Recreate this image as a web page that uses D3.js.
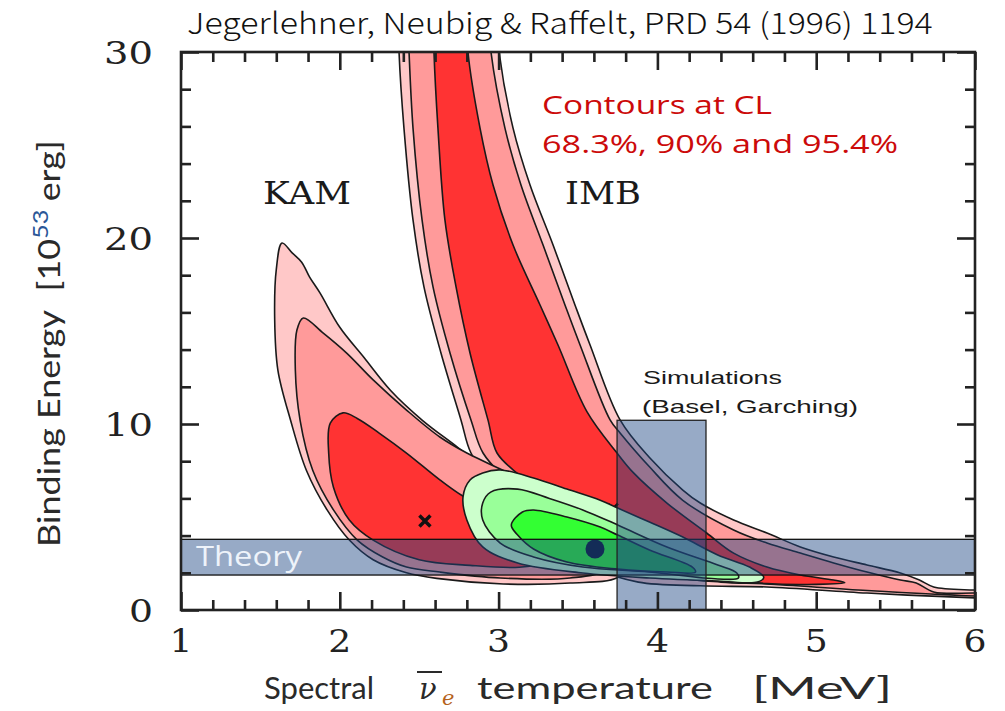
<!DOCTYPE html>
<html><head><meta charset="utf-8">
<script src="https://cdn.jsdelivr.net/npm/d3@7"></script>
<style>body{margin:0;background:#fff;} svg{display:block}</style>
</head><body>
<svg id="c" width="1005" height="711" viewBox="0 0 1005 711"></svg>
<script>
// ---------- data (T [MeV], E [1e53 erg]) ----------
const xMajorTicks = [1, 2, 3, 4, 5, 6];
const xMinorTicks = [1.2,1.4,1.6,1.8,2.2,2.4,2.6,2.8,3.2,3.4,3.6,3.8,4.2,4.4,4.6,4.8,5.2,5.4,5.6,5.8];
const yMajorTicks = [0, 10, 20, 30];
const yMinorTicks = [2,4,6,8,12,14,16,18,22,24,26,28];

const kamOuter = [[1.636,19.73],[1.70,19.2],[1.76,18.7],[1.81,17.9],[1.875,17.05],[2.0,15.2],[2.15,13.6],[2.32,11.8],[2.52,10.2],[2.74,8.76],[2.84,8.06],[3.13,6.7],[3.45,5.4],[3.70,4.0],[3.85,2.7],[3.75,1.75],[3.45,1.45],[3.03,1.4],[2.61,1.7],[2.42,2.0],[2.21,2.7],[2.06,3.76],[1.92,5.38],[1.79,7.5],[1.69,10.2],[1.61,12.9],[1.59,15.6],[1.60,18.3]];
const kam90 = [[1.77,15.7],[1.894,14.9],[2.045,13.8],[2.21,12.37],[2.42,10.75],[2.63,9.3],[2.80,8.44],[3.13,7.1],[3.45,5.75],[3.64,4.57],[3.73,3.2],[3.67,2.15],[3.45,1.72],[3.01,1.72],[2.63,2.04],[2.42,2.31],[2.27,2.85],[2.11,3.76],[1.96,5.38],[1.83,7.5],[1.75,10.2],[1.72,12.9],[1.73,15.05]];
const kam68 = [[2.02,10.6],[2.11,10.3],[2.25,9.5],[2.42,8.44],[2.63,7.0],[2.78,6.1],[3.01,5.1],[3.26,4.0],[3.39,3.2],[3.32,2.6],[3.13,2.3],[2.82,2.4],[2.5,2.7],[2.21,3.76],[2.06,4.84],[1.96,6.6],[1.93,8.44],[1.94,10.05]];
const kamBest = [2.536, 4.78];

const imbOuter = [[2.37,31.5],[2.373,30],[2.404,25.91],[2.461,20.97],[2.53,17.37],[2.637,13.82],[2.763,10.22],[2.826,8.44],[2.98,6.6],[3.18,5.0],[3.40,3.5],[3.62,2.2],[3.88,1.5],[4.27,1.3],[4.69,1.24],[5.32,0.91],[6.0,0.65],[6.25,0.6],[6.25,1.05],[5.99,1.075],[5.74,1.24],[5.65,1.61],[5.53,1.99],[5.32,2.42],[5.11,2.85],[4.90,3.39],[4.69,4.14],[4.48,4.84],[4.27,5.75],[4.16,6.45],[3.95,8.2],[3.765,10.22],[3.576,14.25],[3.481,16.40],[3.343,19.62],[3.198,22.85],[3.091,25.91],[3.003,30],[2.99,31.5]];
const imb90 = [[2.43,31.5],[2.436,30],[2.461,25.91],[2.518,20.97],[2.587,17.37],[2.694,13.82],[2.826,10.22],[2.902,8.44],[3.05,7.0],[3.25,5.5],[3.45,4.2],[3.70,2.8],[4.0,1.9],[4.4,1.5],[4.69,1.4],[5.32,1.05],[6.0,0.75],[6.25,0.7],[6.25,0.95],[5.99,0.91],[5.74,0.97],[5.63,1.45],[5.53,1.61],[5.32,2.04],[5.11,2.53],[4.90,3.06],[4.69,3.6],[4.48,4.3],[4.16,5.9],[3.95,7.7],[3.765,9.52],[3.702,10.22],[3.513,14.25],[3.418,16.40],[3.28,19.62],[3.141,22.85],[3.04,25.91],[2.952,30],[2.94,31.5]];
const imb68 = [[2.59,31.5],[2.593,30],[2.618,25.91],[2.662,20.97],[2.732,17.37],[2.82,13.82],[2.933,10.22],[2.99,8.44],[3.13,7.26],[3.39,5.6],[3.70,3.6],[4.0,2.4],[4.4,1.7],[4.69,1.42],[5.0,1.38],[5.18,1.47],[5.11,1.61],[4.90,1.88],[4.69,2.31],[4.48,3.06],[4.31,4.14],[4.06,5.75],[3.85,7.37],[3.746,8.44],[3.557,10.65],[3.374,14.25],[3.261,16.40],[3.091,19.62],[2.965,22.85],[2.883,25.91],[2.807,30],[2.80,31.5]];
const imbBest = [3.72, 5.45];

const combOuter = [[2.776,6.08],[2.82,6.99],[2.90,7.37],[3.01,7.53],[3.22,7.1],[3.43,6.5],[3.64,5.9],[3.75,5.48],[3.95,4.73],[4.16,3.92],[4.38,2.96],[4.58,2.31],[4.67,1.77],[4.63,1.5],[4.38,1.56],[3.95,1.72],[3.53,1.99],[3.12,2.53],[2.90,3.39],[2.80,4.84]];
const comb90 = [[2.90,5.75],[2.95,6.34],[3.12,6.5],[3.32,6.0],[3.53,5.38],[3.75,4.57],[4.06,3.39],[4.38,2.42],[4.50,1.99],[4.51,1.72],[4.38,1.67],[3.95,2.04],[3.53,2.31],[3.22,2.85],[3.01,3.6],[2.90,4.84]];
const comb68 = [[3.08,4.57],[3.15,5.27],[3.22,5.38],[3.43,5.0],[3.64,4.46],[3.75,4.03],[3.95,3.23],[4.22,2.31],[4.24,2.04],[4.06,2.04],[3.75,2.2],[3.43,2.58],[3.22,3.28],[3.12,4.03]];
const combBest = [3.607, 3.28];

const theoryBand = {x0: 1, x1: 6, y0: 1.88, y1: 3.80};
const simBox = {x0: 3.746, x1: 4.306, y0: 0, y1: 10.2};

// ---------- layout ----------
const L = 181, R = 975, T = 52, B = 610;
const xs = d3.scaleLinear().domain([1, 6]).range([L, R]);
const ys = d3.scaleLinear().domain([0, 30]).range([B, T]);
const svg = d3.select('#c');

svg.append('defs').append('clipPath').attr('id', 'pc')
  .append('rect').attr('x', L).attr('y', T).attr('width', R - L).attr('height', B - T);

const line = d3.line().x(d => xs(d[0])).y(d => ys(d[1])).curve(d3.curveCatmullRomClosed.alpha(0.5));
const plot = svg.append('g').attr('clip-path', 'url(#pc)');

const pinkL = '#ffc8c8', pinkM = '#ff9a9a', red = '#ff3333';
const grnL = '#ccffcc', grnM = '#99ff99', grnH = '#33ff33';

function contour(data, fill) {
  plot.append('path').attr('d', line(data)).attr('fill', fill)
    .attr('stroke', '#1a1a1a').attr('stroke-width', 1.6).attr('stroke-linejoin', 'round');
}
function cross(p, s, w) {
  const cx = xs(p[0]), cy = ys(p[1]);
  plot.append('path').attr('d', `M${cx-s},${cy-s}L${cx+s},${cy+s}M${cx-s},${cy+s}L${cx+s},${cy-s}`)
    .attr('stroke', '#111').attr('stroke-width', w).attr('fill', 'none');
}

contour(imbOuter, pinkL); contour(imb90, pinkM); contour(imb68, red);
cross(imbBest, 5, 2.5);
contour(kamOuter, pinkL); contour(kam90, pinkM); contour(kam68, red);
cross(kamBest, 5.5, 3.5);
contour(combOuter, grnL); contour(comb90, grnM); contour(comb68, grnH);
plot.append('circle').attr('cx', xs(combBest[0])).attr('cy', ys(combBest[1])).attr('r', 9.5).attr('fill', '#0c1733');

const bandFill = 'rgb(29,70,131)', bandOp = 0.46;
plot.append('rect').attr('x', xs(theoryBand.x0)).attr('y', ys(theoryBand.y1))
  .attr('width', xs(theoryBand.x1) - xs(theoryBand.x0)).attr('height', ys(theoryBand.y0) - ys(theoryBand.y1))
  .attr('fill', bandFill).attr('fill-opacity', bandOp).attr('stroke', '#111').attr('stroke-width', 1.3);
plot.append('rect').attr('x', xs(simBox.x0)).attr('y', ys(simBox.y1))
  .attr('width', xs(simBox.x1) - xs(simBox.x0)).attr('height', ys(simBox.y0) - ys(simBox.y1))
  .attr('fill', bandFill).attr('fill-opacity', bandOp).attr('stroke', '#222').attr('stroke-width', 1.3);

// ---------- axes (d3 axes, ticks pointing inward on all four sides) ----------
function axisStyle(g) {
  g.select('.domain').remove();
  g.selectAll('.tick line').style('stroke', '#222').style('stroke-width', '2.6px');
}
const axes = svg.append('g').attr('class', 'axes');
const mk = (axisFn, scale, vals, size, tr) =>
  axes.append('g').attr('transform', tr)
    .call(axisFn(scale).tickValues(vals).tickSizeInner(-size).tickSizeOuter(0).tickFormat(''))
    .call(axisStyle);
mk(d3.axisBottom, xs, xMinorTicks, 10, `translate(0,${B})`);
mk(d3.axisBottom, xs, xMajorTicks, 18, `translate(0,${B})`);
mk(d3.axisTop, xs, xMinorTicks, 10, `translate(0,${T})`);
mk(d3.axisTop, xs, xMajorTicks, 18, `translate(0,${T})`);
mk(d3.axisLeft, ys, yMinorTicks, 10, `translate(${L},0)`);
mk(d3.axisLeft, ys, yMajorTicks, 18, `translate(${L},0)`);
mk(d3.axisRight, ys, yMinorTicks, 10, `translate(${R},0)`);
mk(d3.axisRight, ys, yMajorTicks, 18, `translate(${R},0)`);
axes.append('rect').attr('x', L).attr('y', T).attr('width', R - L).attr('height', B - T)
  .style('fill', 'none').style('stroke', '#222').style('stroke-width', '2.6px');

svg.append('g').selectAll('text').data(xMajorTicks).join('text')
  .attr('x', d => xs(d)).attr('y', 652).attr('text-anchor', 'middle').text(d3.format('d'))
  .attr('textLength', 23).attr('lengthAdjust', 'spacingAndGlyphs')
  .attr('font-family', 'DejaVu Serif').attr('font-size', 32).attr('fill', '#222');
svg.append('g').selectAll('text').data(yMajorTicks).join('text')
  .attr('x', 153).attr('y', d => ys(d)).attr('dy', '0.36em').attr('text-anchor', 'end').text(d3.format('d'))
  .attr('textLength', d => d >= 10 ? 49 : 24).attr('lengthAdjust', 'spacingAndGlyphs')
  .attr('font-family', 'DejaVu Serif').attr('font-size', 32).attr('fill', '#222');

// ---------- texts ----------
function txt(s, x, y, o) {
  const t = svg.append('text').attr('x', x).attr('y', y).text(s)
    .attr('font-family', o.f).attr('font-size', o.s).attr('fill', o.c || '#222');
  if (o.len) t.attr('textLength', o.len).attr('lengthAdjust', 'spacingAndGlyphs');
  if (o.it) t.attr('font-style', 'italic');
  return t;
}
function fitGroup(g, node, x0, x1, y) {
  const w = node.getBBox().width;
  g.attr('transform', `translate(${x0},${y}) scale(${(x1 - x0) / w},1)`);
}
{
  const g = svg.append('g');
  const t = g.append('text').attr('x', 0).attr('y', 0).text('Jegerlehner, Neubig & Raffelt, PRD 54 (1996) 1194')
    .attr('font-family', 'Noto Sans CJK JP').attr('font-weight', 300).attr('font-size', 29).attr('fill', '#111');
  fitGroup(g, t.node(), 187, 933, 34);
}
txt('KAM', 263, 204, {f: 'DejaVu Serif', s: 32, c: '#1a1a1a', len: 88});
txt('IMB', 565, 204, {f: 'DejaVu Serif', s: 32, c: '#1a1a1a', len: 76});
txt('Contours at CL', 542, 114, {f: 'Open Sans', s: 26, c: '#cc0a0a', len: 230});
txt('68.3%, 90% and 95.4%', 542, 153, {f: 'Open Sans', s: 26, c: '#cc0a0a', len: 356});
txt('Simulations', 643, 384, {f: 'Liberation Sans', s: 19, c: '#1a1a1a', len: 139});
txt('(Basel, Garching)', 642, 413, {f: 'Liberation Sans', s: 19, c: '#1a1a1a', len: 216});
txt('Theory', 196, 566, {f: 'Open Sans', s: 27, c: '#eef3fa', len: 106});

// x-axis title
txt('Spectral', 264, 699, {f: 'Lato', s: 31, c: '#2a2a2a', len: 110});
txt('ν', 419, 699, {f: 'DejaVu Serif', s: 29, c: '#2a2a2a', it: true});
svg.append('rect').attr('x', 417).attr('y', 671).attr('width', 25).attr('height', 2).attr('fill', '#2a2a2a');
txt('e', 442, 705, {f: 'DejaVu Serif', s: 21, c: '#b5621c', it: true});
txt('temperature', 477, 699, {f: 'Lato', s: 31, c: '#2a2a2a', len: 236});
txt('[MeV]', 752, 699, {f: 'Lato', s: 31, c: '#2a2a2a', len: 140});

// y-axis title
{
  const g = svg.append('g');
  const t = g.append('text').attr('x', 0).attr('y', 0).attr('font-family', 'Lato').attr('font-size', 31).attr('fill', '#2a2a2a');
  t.append('tspan').text('Binding Energy');
  t.append('tspan').attr('dx', 16).text('[10');
  t.append('tspan').attr('dy', -12).attr('font-size', 22).attr('fill', '#2b5797').text('53');
  t.append('tspan').attr('dy', 12).attr('dx', 7).text('erg]');
  const w = t.node().getBBox().width;
  g.attr('transform', `translate(60,547) rotate(-90) scale(${407 / w},1)`);
}
</script></body></html>
